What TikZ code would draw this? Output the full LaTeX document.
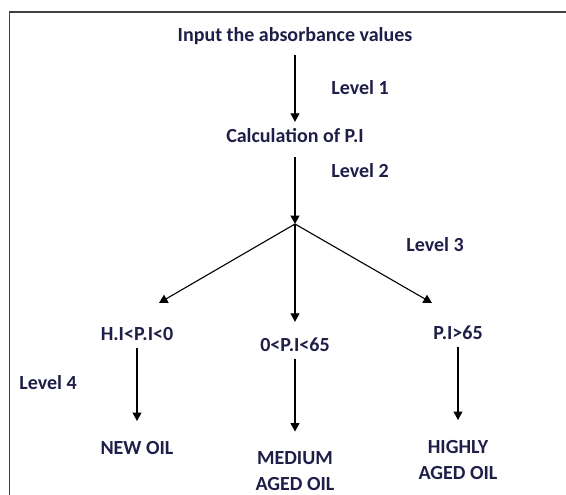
\documentclass[tikz,border=0pt]{standalone}
\usepackage{fontspec}
\setmainfont{Carlito}
\usetikzlibrary{arrows.meta,positioning}
\definecolor{ink}{RGB}{30,30,72}
\begin{document}
\begin{tikzpicture}[x=1pt, y=-1pt,
  main/.style = {font=\bfseries\fontsize{20}{26}\selectfont, text=ink, inner sep=0pt, text height=14pt, text depth=5pt},
  res/.style = {font=\bfseries\fontsize{20}{26}\selectfont, text=ink, inner sep=0pt, align=center, anchor=north},
  lvl/.style = {main},
  arr/.style = {-{Triangle[width=9pt,length=8.5pt]}, line width=1.1pt},
  low/.style = {arr, shorten <=2pt, shorten >=20pt}]
  \useasboundingbox (0,0) rectangle (566,495);
  \draw[line width=1.5pt, black!75] (9.5,495) -- (9.5,12) -- (566,12);

  \node[main] (input) at (295,37) {Input the absorbance values};
  \node[main] (calc) at (295,138) {Calculation of P.I};
  \coordinate (split) at (295,224);
  \coordinate (tipL) at (159,303);
  \coordinate (tipR) at (432,303);

  \node[main] (c1) at (137,336) {H.I<P.I<0};
  \node[main] (c2) at (295,347) {0<P.I<65};
  \node[main] (c3) at (458,335) {P.I>65};

  \node[res] (r1) at (137,441) {NEW OIL};
  \node[res] (r2) at (295,451.5) {MEDIUM\\AGED OIL};
  \node[res] (r3) at (458,440) {HIGHLY\\AGED OIL};

  \node[lvl] (l1) at (360,90) {Level 1};
  \node[lvl] (l2) at (360,173) {Level 2};
  \node[lvl] (l3) at (435,247) {Level 3};
  \node[lvl] (l4) at (48,385) {Level 4};

  \draw[arr, shorten <=8.5pt, shorten >=6.5pt] (input) -- (calc);
  \draw[arr, shorten <=9.5pt] (calc) -- (split);
  \draw[arr] (split) -- (tipL);
  \draw[arr, shorten >=15.5pt] (split) -- (c2);
  \draw[arr] (split) -- (tipR);

  \draw[low] (c1) -- (r1);
  \draw[low] (c2) -- (r2);
  \draw[low] (c3) -- (r3);
\end{tikzpicture}
\end{document}
